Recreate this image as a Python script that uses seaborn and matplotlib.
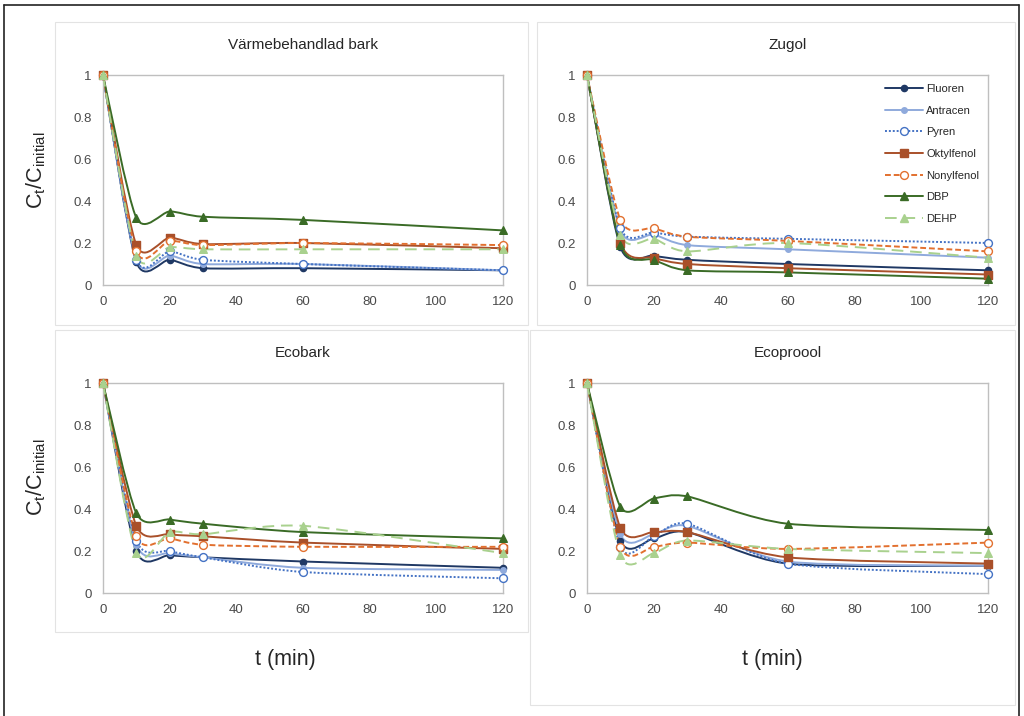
import numpy as np
import matplotlib
matplotlib.use("Agg")
import matplotlib.pyplot as plt
import seaborn as sns
from matplotlib.path import Path
from matplotlib.patches import PathPatch, Rectangle
from matplotlib.lines import Line2D

# ------------------------
# DATA
# ------------------------

time_min = [0, 10, 20, 30, 60, 120]
compounds = ["Fluoren", "Antracen", "Pyren", "Oktylfenol", "Nonylfenol", "DBP", "DEHP"]
panel_titles = ["Värmebehandlad bark", "Zugol", "Ecobark", "Ecoproool"]

# rows follow `compounds`, columns follow `time_min`
varme = [
    [1, 0.11, 0.12, 0.08, 0.08, 0.07],
    [1, 0.12, 0.14, 0.10, 0.10, 0.07],
    [1, 0.12, 0.16, 0.12, 0.10, 0.07],
    [1, 0.19, 0.225, 0.195, 0.20, 0.175],
    [1, 0.16, 0.21, 0.19, 0.20, 0.19],
    [1, 0.32, 0.35, 0.325, 0.31, 0.26],
    [1, 0.14, 0.18, 0.17, 0.17, 0.17],
]
zugol = [
    [1, 0.18, 0.14, 0.12, 0.10, 0.07],
    [1, 0.26, 0.24, 0.19, 0.17, 0.13],
    [1, 0.27, 0.25, 0.23, 0.22, 0.20],
    [1, 0.20, 0.13, 0.10, 0.08, 0.05],
    [1, 0.31, 0.27, 0.23, 0.21, 0.16],
    [1, 0.19, 0.12, 0.07, 0.06, 0.03],
    [1, 0.24, 0.22, 0.16, 0.20, 0.13],
]
ecobark = [
    [1, 0.20, 0.18, 0.17, 0.15, 0.12],
    [1, 0.23, 0.19, 0.17, 0.12, 0.11],
    [1, 0.25, 0.20, 0.17, 0.10, 0.07],
    [1, 0.32, 0.28, 0.27, 0.24, 0.21],
    [1, 0.27, 0.26, 0.23, 0.22, 0.22],
    [1, 0.38, 0.35, 0.33, 0.29, 0.26],
    [1, 0.19, 0.29, 0.28, 0.32, 0.19],
]
ecoproool = [
    [1, 0.25, 0.26, 0.29, 0.14, 0.13],
    [1, 0.28, 0.28, 0.32, 0.15, 0.13],
    [1, 0.22, 0.27, 0.33, 0.14, 0.09],
    [1, 0.31, 0.29, 0.29, 0.17, 0.14],
    [1, 0.22, 0.22, 0.24, 0.21, 0.24],
    [1, 0.41, 0.45, 0.46, 0.33, 0.30],
    [1, 0.18, 0.19, 0.25, 0.21, 0.19],
]

# ------------------------
# STYLE
# ------------------------

colors = ["#1F3864", "#8FAADC", "#4472C4", "#A9502A", "#E2702F", "#3A6B26", "#A9D18E"]
linestyles = ["-", "-", (0, (1, 1)), "-", (0, (3, 1.5)), "-", (0, (6, 3.5))]
markers = ["o", "o", "o", "s", "o", "^", "^"]
marker_open = [False, False, True, False, True, False, False]
marker_size = [20, 16, 32, 34, 32, 30, 30]

W, H = 1024, 716


def fig_rect(x0, y0, x1, y1):
    # pixel box (top-left origin) -> figure fraction [left, bottom, width, height]
    return [x0 / W, 1 - y1 / H, (x1 - x0) / W, (y1 - y0) / H]


def smooth_path(x, y, k=8.0):
    # Excel-style smoothed line: cubic Bezier through the points
    x = np.asarray(x, float)
    y = np.asarray(y, float)
    n = len(x)
    verts = [(x[0], y[0])]
    codes = [Path.MOVETO]
    for i in range(n - 1):
        xp, yp = (x[i - 1], y[i - 1]) if i > 0 else (x[i], y[i])
        xn, yn = (x[i + 2], y[i + 2]) if i < n - 2 else (x[i + 1], y[i + 1])
        c1 = (x[i] + (x[i + 1] - xp) / k, y[i] + (y[i + 1] - yp) / k)
        c2 = (x[i + 1] - (xn - x[i]) / k, y[i + 1] - (yn - y[i]) / k)
        verts += [c1, c2, (x[i + 1], y[i + 1])]
        codes += [Path.CURVE4] * 3
    return Path(verts, codes)


def draw_panel(ax, data, title):
    for k, name in enumerate(compounds):
        vals = data[k]
        patch = PathPatch(smooth_path(time_min, vals), fill=False,
                          edgecolor=colors[k], linestyle=linestyles[k],
                          linewidth=1.4, zorder=2 + k * 0.1, clip_on=False)
        ax.add_patch(patch)
        face = "white" if marker_open[k] else colors[k]
        sns.scatterplot(x=time_min, y=vals, ax=ax, marker=markers[k],
                        s=marker_size[k], color=face, edgecolor=colors[k],
                        linewidth=1.0, zorder=3 + k * 0.1, legend=False,
                        clip_on=False)

    ax.set_xlim(0, 120)
    ax.set_ylim(0, 1)
    ax.set_xticks(range(0, 121, 20))
    ax.set_yticks([0, 0.2, 0.4, 0.6, 0.8, 1])
    ax.set_yticklabels(["0", "0.2", "0.4", "0.6", "0.8", "1"])
    ax.tick_params(length=0, labelsize=9.5, colors="#4A4A4A", pad=8)
    ax.set_xlabel("")
    ax.set_ylabel("")
    for sp in ax.spines.values():
        sp.set_color("#BFBFBF")
        sp.set_linewidth(1.0)
    ax.set_title(title, fontsize=11, color="#262626", pad=19)


# ------------------------
# FIGURE
# ------------------------

sns.set_style("white")
plt.rcParams["font.family"] = ["Liberation Sans", "DejaVu Sans"]
plt.rcParams["mathtext.fontset"] = "custom"
plt.rcParams["mathtext.rm"] = "Liberation Sans"
plt.rcParams["mathtext.it"] = "Liberation Sans"

fig = plt.figure(figsize=(10.24, 7.16), dpi=100)

# chart-area frames
for box in [(55, 22, 528, 325), (537, 22, 1015, 325),
            (55, 330, 528, 632), (530, 330, 1015, 705)]:
    r = fig_rect(*box)
    fig.add_artist(Rectangle(r[:2], r[2], r[3], transform=fig.transFigure, fill=False,
                             edgecolor="#E3E3E3", linewidth=0.8))

# outer border
border = dict(transform=fig.transFigure, color="#222222", linewidth=1.2)
fig.add_artist(Line2D([4 / W, 4 / W], [0, 1 - 5 / H], **border))
fig.add_artist(Line2D([4 / W, 1019 / W], [1 - 5 / H, 1 - 5 / H], **border))
fig.add_artist(Line2D([1019 / W, 1019 / W], [0, 1 - 5 / H], **border))

axes_boxes = [(103, 75, 503, 285), (587, 75, 988, 285),
              (103, 383, 503, 593), (587, 383, 988, 593)]
datasets = [varme, zugol, ecobark, ecoproool]

axes = []
for box, data, title in zip(axes_boxes, datasets, panel_titles):
    ax = fig.add_axes(fig_rect(*box))
    draw_panel(ax, data, title)
    axes.append(ax)

# legend in Zugol panel
handles = []
for k, name in enumerate(compounds):
    face = "white" if marker_open[k] else colors[k]
    handles.append(Line2D([], [], color=colors[k], linestyle=linestyles[k], linewidth=1.4,
                          marker=markers[k], markersize=np.sqrt(marker_size[k]),
                          markerfacecolor=face, markeredgecolor=colors[k]))
leg = axes[1].legend(handles, compounds, loc="upper right", bbox_to_anchor=(1.0, 1.0),
                     fontsize=8, frameon=False, handlelength=3.4, labelspacing=1.05,
                     handletextpad=0.3, borderaxespad=0.4)
for t in leg.get_texts():
    t.set_color("#262626")

# axis labels
ylab = r"$\mathregular{C_t/C_{initial}}$"
fig.text(36 / W, 1 - 170 / H, ylab, rotation=90, fontsize=15.5, ha="center", va="center",
         color="#262626")
fig.text(36 / W, 1 - 477 / H, ylab, rotation=90, fontsize=15.5, ha="center", va="center",
         color="#262626")
fig.text(285 / W, 1 - 660 / H, "t (min)", fontsize=15.5, ha="center", va="center",
         color="#262626")
fig.text(772 / W, 1 - 660 / H, "t (min)", fontsize=15.5, ha="center", va="center",
         color="#262626")

fig.savefig("out.png", dpi=100)
